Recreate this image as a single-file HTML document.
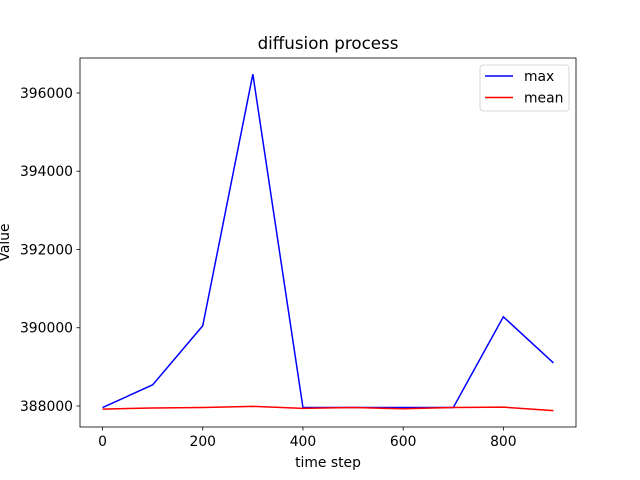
<!DOCTYPE html>
<html><head><meta charset="utf-8"><style>
body{margin:0;background:#fff;}
svg{display:block;font-family:"DejaVu Sans","Liberation Sans",sans-serif;}
</style></head><body>
<svg id="chart" width="640" height="480"></svg>
<script>
const steps=[0,100,200,300,400,500,600,700,800,900];
const maxVals=[387960,388540,390050,396480,387960,387960,387960,387960,390280,389100];
const meanVals=[387920,387950,387960,387990,387940,387960,387930,387960,387970,387880];
const xTicks=[0,200,400,600,800];
const yTicks=[388000,390000,392000,394000,396000];
const L=80,R=576,T=58,B=427;
const x0=-45,x1=945,y0=387463,y1=396894;
const sx=v=>L+(v-x0)/(x1-x0)*(R-L);
const sy=v=>B-(v-y0)/(y1-y0)*(B-T);
const svg=document.getElementById('chart');
const NS='http://www.w3.org/2000/svg';
function mk(tag,attrs,parent){const e=document.createElementNS(NS,tag);for(const k in attrs)e.setAttribute(k,attrs[k]);(parent||svg).appendChild(e);return e;}
function line(data,color,name){
  const p=mk('polyline',{points:data.map((v,i)=>sx(steps[i])+','+sy(v)).join(' '),fill:'none',stroke:color,'stroke-width':1.5});
  
  
}
line(maxVals,'#0000ff','max-line');
line(meanVals,'#ff0000','mean-line');
const frame=mk('rect',{x:L,y:T,width:R-L,height:B-T,fill:'none',stroke:'#000','stroke-width':0.8});


xTicks.forEach(t=>{
  mk('line',{x1:sx(t),x2:sx(t),y1:B,y2:B+3.5,stroke:'#000','stroke-width':0.8});
  const tx=mk('text',{x:sx(t),y:B+19,'font-size':13.9,'text-anchor':'middle'});tx.textContent=t;
  
  
});
yTicks.forEach(t=>{
  mk('line',{x1:L-3.5,x2:L,y1:sy(t),y2:sy(t),stroke:'#000','stroke-width':0.8});
  const tx=mk('text',{x:L-7,y:sy(t)+5,'font-size':13.9,'text-anchor':'end'});tx.textContent=t;
  
  
});
const title=mk('text',{x:(L+R)/2,y:49,'font-size':16.7,'text-anchor':'middle'});title.textContent='diffusion process';


const xl=mk('text',{x:(L+R)/2,y:467,'font-size':13.9,'text-anchor':'middle'});xl.textContent='time step';


const yl=mk('text',{x:0,y:0,'font-size':13.9,'text-anchor':'middle',transform:'translate(9,'+((T+B)/2)+') rotate(-90)'});yl.textContent='Value';


const lg=mk('g',{});


mk('rect',{x:480,y:65,width:89,height:46,rx:3,fill:'#fff',stroke:'#ccc','stroke-width':0.8},lg);
[['max','#0000ff',76],['mean','#ff0000',97.5]].forEach(([n,c,y])=>{
  const e=mk('g',{},lg);
  
  
  mk('line',{x1:485,x2:513,y1:y,y2:y,stroke:c,'stroke-width':1.5},e);
  const t=mk('text',{x:524,y:y+5,'font-size':13.9},e);t.textContent=n;
});
</script>
</body></html>
